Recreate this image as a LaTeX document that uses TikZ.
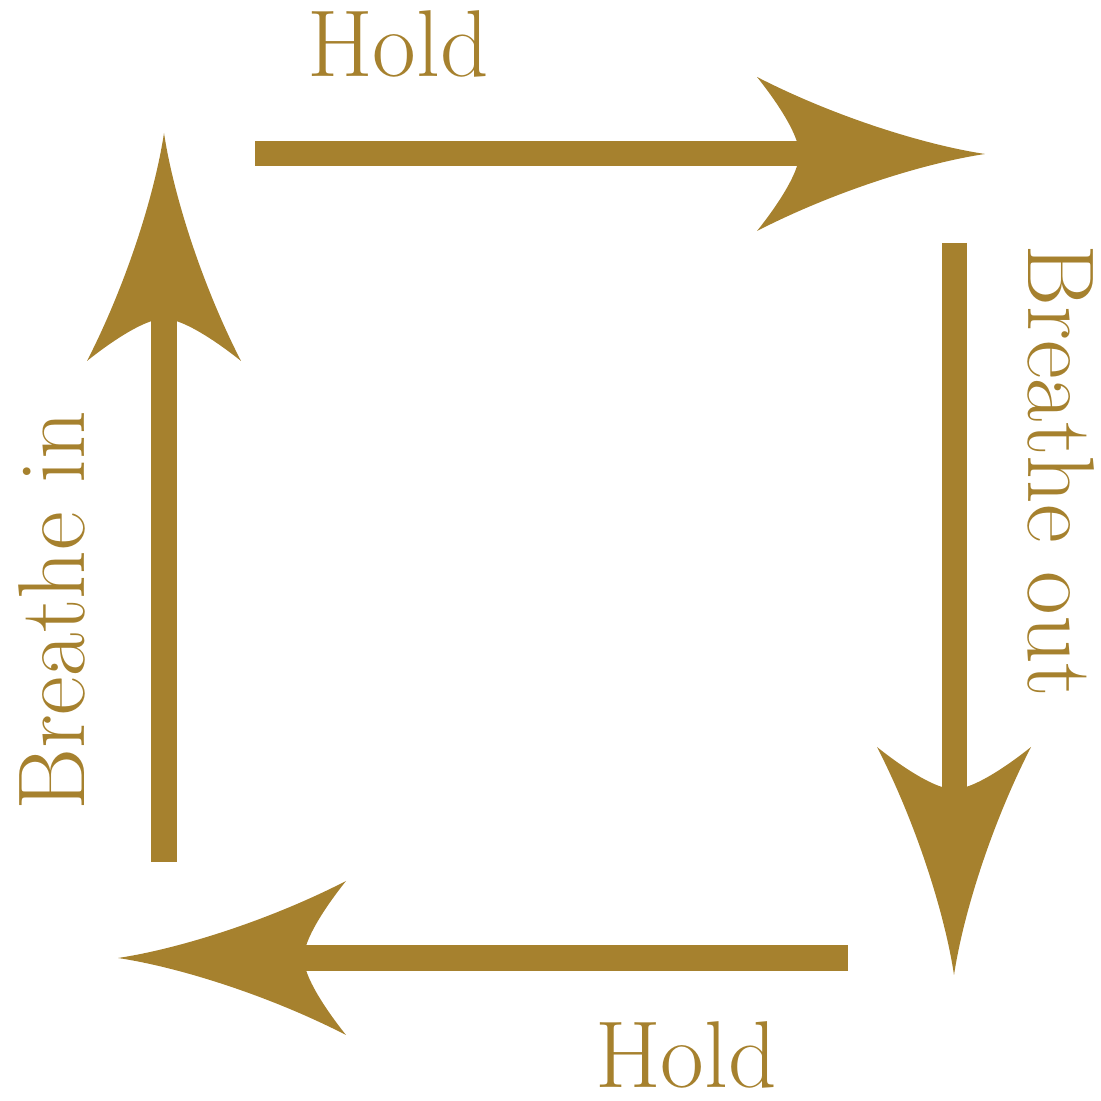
\documentclass[tikz,border=0pt]{standalone}
\usetikzlibrary{calc}
\definecolor{gold}{HTML}{A6812E}
\tikzset{
  shaft/.style={draw=gold, line width=0.25cm, line cap=butt, shorten >=1.6cm},
  lbl/.style={text=gold, inner sep=0pt, anchor=base, font=\fontsize{27}{32}\selectfont},
}
\newcommand\fancyhead[2]{% tip coordinate, angle
  \fill[gold, shift={(#1)}, rotate=#2]
    (0,0) .. controls (-60,9) and (-150,37) .. (-228,77)
    .. controls (-208,52) and (-193,28) .. (-188,12)
    -- (-188,-12)
    .. controls (-193,-28) and (-208,-52) .. (-228,-77)
    .. controls (-150,-37) and (-60,-9) .. (0,0) -- cycle;
}
\begin{document}
\begin{tikzpicture}[x=0.01cm, y=0.01cm]
\useasboundingbox (0,0) rectangle (1101,1101);
% arrow ends
\coordinate (topS) at (255,947);
\coordinate (topT) at (985,947);
\coordinate (rgtS) at (954,858);
\coordinate (rgtT) at (954,126);
\coordinate (botS) at (848,143);
\coordinate (botT) at (118,143);
\coordinate (lftS) at (164,239);
\coordinate (lftT) at (164,968);
% shafts
\draw[shaft] (topS) -- (topT);
\draw[shaft] (rgtS) -- (rgtT);
\draw[shaft] (botS) -- (botT);
\draw[shaft] (lftS) -- (lftT);
% heads
\fancyhead{topT}{0}
\fancyhead{rgtT}{-90}
\fancyhead{botT}{180}
\fancyhead{lftT}{90}
% labels
\node[lbl] (holdtop) at (398,1024) {Hold};
\node[lbl] (holdbot) at (686,14) {Hold};
\node[lbl, rotate=90] (bin) at (84,490) {Breathe in};
\node[lbl, rotate=-90] (bout) at (1028,630) {Breathe out};
\end{tikzpicture}
\end{document}
